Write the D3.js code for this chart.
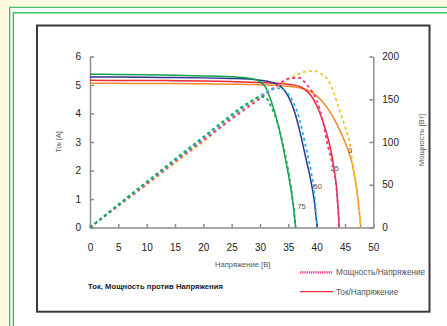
<!DOCTYPE html>
<meta charset="utf-8">
<style>

    body {
        margin: 0;
        background: #fefadf;
    }

    svg {
        display: block;
        font-family: "Liberation Sans", Arial, sans-serif;
    }

    .axis path,
    .axis line {
        stroke: #8c8c8c;
        stroke-width: 1.5px;
    }

    .axis text {
        font-size: 10px;
        fill: #222;
        font-family: "Liberation Sans", Arial, sans-serif;
    }

    .current {
        fill: none;
        stroke-width: 1.5px;
    }

    .power {
        fill: none;
        stroke-width: 1.8px;
        stroke-dasharray: 3, 3;
    }

    .small {
        fill: #555;
    }

</style>
<svg width="447" height="326"></svg>
<script src="https://d3js.org/d3.v7.min.js"></script>
<script>

    // temperatures, degrees C
    var temps = ["0", "25", "50", "75"];

    // 0 C
    var volt0 = [0, 5, 10, 15, 20, 25, 30, 35, 37, 39, 40, 41, 42, 43, 44, 45, 46, 46.5, 47, 47.5, 47.8];
    var amps0 = [5.06, 5.06, 5.05, 5.05, 5.04, 5.03, 5.01, 4.96, 4.9, 4.76, 4.62, 4.42, 4.16, 3.84, 3.45, 3.0, 2.45, 2.05, 1.45, 0.62, 0];
    var watts0 = [0, 25, 50, 75.5, 100.5, 128, 152, 173, 180, 183, 182.5, 179, 173, 158, 138, 118, 92, 66, 46, 20, 0];

    // 25 C
    var volt25 = [0, 5, 10, 15, 20, 25, 30, 33, 35, 37, 38, 39, 40, 41, 42, 42.5, 43, 43.5, 44];
    var amps25 = [5.17, 5.16, 5.16, 5.15, 5.14, 5.12, 5.09, 5.06, 5.03, 4.95, 4.83, 4.63, 4.28, 3.78, 3.13, 2.72, 2.15, 1.42, 0];
    var watts25 = [0, 25.5, 51, 77, 102, 127, 151, 166, 174, 175, 169, 161, 149, 127, 95, 82, 69, 46, 0];

    // 50 C
    var volt50 = [0, 5, 10, 15, 20, 25, 28, 30, 32, 33, 34, 35, 36, 37, 38, 39, 39.5, 40.1];
    var amps50 = [5.28, 5.28, 5.27, 5.26, 5.25, 5.23, 5.21, 5.17, 5.1, 5.03, 4.88, 4.6, 4.12, 3.4, 2.52, 1.62, 1.05, 0];
    var watts50 = [0, 26, 52.5, 78.5, 104.5, 130, 145, 154, 161, 163, 162, 156, 145, 126, 97, 66, 46, 0];

    // 75 C
    var volt75 = [0, 5, 10, 15, 20, 25, 27, 29, 30, 31, 32, 33, 34, 35, 35.5, 36, 36.3];
    var amps75 = [5.38, 5.37, 5.36, 5.34, 5.32, 5.29, 5.26, 5.2, 5.12, 4.92, 4.42, 3.76, 2.9, 1.87, 1.3, 0.55, 0];
    var watts75 = [0, 27, 53.5, 80, 106, 132, 142, 150, 153, 152, 141, 124, 99, 66, 46, 20, 0];

    var voltTicks = [0, 5, 10, 15, 20, 25, 30, 35, 40, 45, 50];
    var ampTicks = [0, 1, 2, 3, 4, 5, 6];
    var wattTicks = [0, 50, 100, 150, 200];

    var currentColors = ["#f5892b", "#ec2b38", "#2c3590", "#12a24a"];
    var powerColors = ["#fbc125", "#e8358f", "#22b3e6", "#16a84f"];

    var series = [
        {t: "0", v: volt0, i: amps0, p: watts0},
        {t: "25", v: volt25, i: amps25, p: watts25},
        {t: "50", v: volt50, i: amps50, p: watts50},
        {t: "75", v: volt75, i: amps75, p: watts75}
    ];

    var svg = d3.select("svg");

    // frame
    svg.append("rect")
        .attr("x", 9).attr("y", 7)
        .attr("width", 460).attr("height", 340)
        .attr("fill", "#fff");

    svg.append("path")
        .attr("d", "M9.7,340V7.4H460")
        .attr("fill", "none")
        .attr("stroke", "#3cc46c")
        .attr("stroke-width", 1.4);

    svg.append("path")
        .attr("d", "M13.3,340V12.7H460")
        .attr("fill", "none")
        .attr("stroke", "#3cc46c")
        .attr("stroke-width", 1.4);

    svg.append("rect")
        .attr("x", 37).attr("y", 25.5)
        .attr("width", 392.5).attr("height", 286.2)
        .attr("fill", "none")
        .attr("stroke", "#3a3a3a")
        .attr("stroke-width", 2);

    var x = d3.scaleLinear().domain([0, 50]).range([90, 373.3]);
    var y = d3.scaleLinear().domain([0, 6]).range([227.5, 56.5]);
    var yP = d3.scaleLinear().domain([0, 200]).range([227.5, 56.5]);

    svg.append("g")
        .attr("class", "axis")
        .attr("transform", "translate(0,227.5)")
        .call(d3.axisBottom(x).tickValues(voltTicks).tickFormat(d3.format("d"))
            .tickSize(-3.5).tickSizeOuter(0).tickPadding(16));

    svg.append("g")
        .attr("class", "axis")
        .attr("transform", "translate(90,0)")
        .call(d3.axisLeft(y).tickValues(ampTicks).tickFormat(d3.format("d"))
            .tickSize(-4).tickSizeOuter(0).tickPadding(9));

    svg.append("g")
        .attr("class", "axis")
        .attr("transform", "translate(373.3,0)")
        .call(d3.axisRight(yP).tickValues(wattTicks).tickFormat(d3.format("d"))
            .tickSize(-4).tickSizeOuter(0).tickPadding(9));

    svg.selectAll(".axis text").attr("font-size", null).attr("font-family", null);

    var currentLine = d3.line()
        .x(function (d) {
            return x(d[0]);
        })
        .y(function (d) {
            return y(d[1]);
        })
        .curve(d3.curveMonotoneX);

    var powerLine = d3.line()
        .x(function (d) {
            return x(d[0]);
        })
        .y(function (d) {
            return yP(d[1]);
        })
        .curve(d3.curveMonotoneX);

    svg.append("g")
        .selectAll("path")
        .data(series)
        .enter().append("path")
        .attr("class", "current")
        .attr("stroke", function (d, k) {
            return currentColors[k];
        })
        .attr("d", function (d) {
            return currentLine(d3.zip(d.v, d.i));
        });

    svg.append("g")
        .selectAll("path")
        .data(series)
        .enter().append("path")
        .attr("class", "power")
        .attr("stroke", function (d, k) {
            return powerColors[k];
        })
        .attr("d", function (d) {
            return powerLine(d3.zip(d.v, d.p));
        });

    // temperature labels, placed in volt/amp space
    var labelAt = [[45.9, 2.69], [43.2, 2.09], [40.2, 1.46], [37.35, 0.75]];

    svg.append("g")
        .selectAll("text")
        .data(temps)
        .enter().append("text")
        .attr("class", "small")
        .style("font-size", "7.5px")
        .attr("text-anchor", "middle")
        .attr("dy", "0.35em")
        .attr("x", function (d, k) {
            return x(labelAt[k][0]);
        })
        .attr("y", function (d, k) {
            return y(labelAt[k][1]);
        })
        .text(function (d) {
            return d;
        });

    // axis titles
    svg.append("text")
        .attr("class", "small")
        .style("font-size", "7px")
        .attr("text-anchor", "middle")
        .attr("transform", "translate(61,142) rotate(-90)")
        .text("Ток [A]");

    svg.append("text")
        .attr("class", "small")
        .style("font-size", "7.8px")
        .attr("text-anchor", "middle")
        .attr("transform", "translate(424,140) rotate(-90)")
        .text("Мощность [Вт]");

    svg.append("text")
        .attr("class", "small")
        .style("font-size", "7.6px")
        .attr("text-anchor", "middle")
        .attr("x", 242.7)
        .attr("y", 267)
        .text("Напряжение [В]");

    svg.append("text")
        .attr("x", 88)
        .attr("y", 288.5)
        .style("font-size", "7.7px")
        .attr("font-weight", "bold")
        .attr("fill", "#222")
        .text("Ток, Мощность против Напряжения");

    // legend
    var legend = svg.append("g");

    legend.append("line")
        .attr("x1", 300).attr("x2", 333)
        .attr("y1", 272.3).attr("y2", 272.3)
        .attr("stroke", "#e8358f")
        .attr("stroke-width", 2.2)
        .attr("stroke-dasharray", "1.3,0.9");

    legend.append("line")
        .attr("x1", 300).attr("x2", 333)
        .attr("y1", 291.7).attr("y2", 291.7)
        .attr("stroke", "#f02a36")
        .attr("stroke-width", 1.3);

    legend.append("text")
        .attr("class", "small")
        .style("font-size", "8.2px")
        .attr("x", 336).attr("y", 275.2)
        .text("Мощность/Напряжение");

    legend.append("text")
        .attr("class", "small")
        .style("font-size", "8.2px")
        .attr("x", 336).attr("y", 294.6)
        .text("Ток/Напряжение");

</script>
